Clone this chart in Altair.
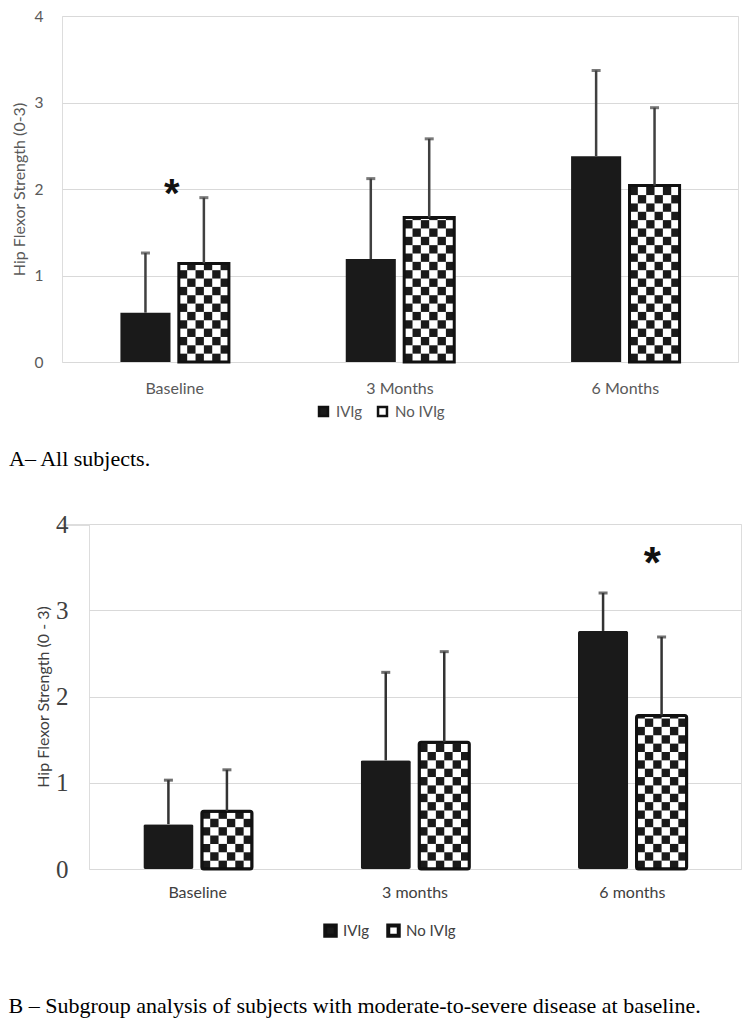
import math
import altair as alt
import pandas as pd

groups = ["IVIg", "No IVIg"]

# ---- Panel A: all subjects ----
a_times = ["Baseline", "3 Months", "6 Months"]
a_ivig = [0.57, 1.19, 2.38]
a_ivig_sd = [0.69, 0.93, 0.99]
a_noivig = [1.14, 1.67, 2.04]
a_noivig_sd = [0.76, 0.91, 0.90]
a_star_time = ["Baseline"]
a_star_y = [1.97]

# ---- Panel B: moderate-to-severe subgroup ----
b_times = ["Baseline", "3 months", "6 months"]
b_ivig = [0.52, 1.26, 2.76]
b_ivig_sd = [0.51, 1.02, 0.44]
b_noivig = [0.67, 1.47, 1.78]
b_noivig_sd = [0.48, 1.05, 0.91]
b_star_time = ["6 months"]
b_star_y = [3.63]


def make_panel(times, ivig, ivig_sd, noivig, noivig_sd, star_time, star_y,
               W, H, K, ytitle, caption, st):
    df = pd.DataFrame({
        "Time": times * 2,
        "Group": [groups[0]] * len(times) + [groups[1]] * len(times),
        "Mean": ivig + noivig,
        "SD": ivig_sd + noivig_sd,
    })
    df["Upper"] = df["Mean"] + df["SD"]

    # checkerboard cells for the "No IVIg" bars
    slot_px = W / len(times) / K
    h = slot_px / (H / 4.0)
    slots = [f"I{j}" for j in range(6)] + ["G"] + [f"N{j}" for j in range(6)]
    cells = []
    for t, v in zip(times, noivig):
        n = math.ceil(v / h)
        for i in range(n):
            for j in range(6):
                if (i + j) % 2 == 0:
                    cells.append({"Time": t, "Slot": f"N{j}", "y": i * h,
                                  "y2": min((i + 1) * h, v)})
    cells = pd.DataFrame(cells)

    stars = pd.DataFrame({"Time": star_time, "y": star_y})

    xscale = alt.Scale(domain=times, paddingInner=(K - 13) / K,
                       paddingOuter=(K - 13) / (2 * K))
    xaxis = alt.Axis(title=None, labelAngle=0, ticks=False, domain=False, grid=False,
                     labelFont=st["font"], labelFontSize=st["xfs"], labelColor=st["color"],
                     labelPadding=st["xpad"])
    X = alt.X("Time:N", scale=xscale, sort=times, axis=xaxis)
    yscale = alt.Scale(domain=[0, 4], nice=False)
    yaxis = alt.Axis(title=ytitle, values=[0, 1, 2, 3, 4], format="d", grid=True,
                     gridColor="#d9d9d9", gridWidth=1.2, domain=False, ticks=False,
                     labelFont=st["yfont"], labelFontSize=st["yfs"], labelColor=st["ycolor"],
                     labelPadding=st["ypad"], titleFont=st["font"], titleFontSize=st["tfs"],
                     titleFontWeight="normal", titleColor=st["color"],
                     titlePadding=st["tpad"])
    oscale = alt.Scale(domain=groups, paddingInner=1 / 7, paddingOuter=0)
    XO = alt.XOffset("Group:N", scale=oscale, sort=groups)

    bars = alt.Chart(df).mark_bar(cornerRadius=st["cr"]).encode(
        x=X, xOffset=XO,
        y=alt.Y("Mean:Q", scale=yscale, axis=yaxis),
        fill=alt.Fill("Group:N", scale=alt.Scale(domain=groups, range=["#1a1a1a", "white"]),
                      legend=alt.Legend(title=None, orient="none", direction="horizontal",
                                        legendX=st["lx"], legendY=H + st["ly"],
                                        symbolType="square", symbolSize=st["ss"],
                                        symbolStrokeColor="#111111",
                                        symbolStrokeWidth=st["ssw"],
                                        labelFont=st["font"], labelFontSize=st["lfs"],
                                        labelColor=st["color"], labelOffset=5,
                                        columnPadding=10)),
    )

    checks = alt.Chart(cells).mark_rect(color="#1a1a1a").encode(
        x=X,
        xOffset=alt.XOffset("Slot:N", scale=alt.Scale(domain=slots, paddingInner=0,
                                                      paddingOuter=0), sort=slots),
        y=alt.Y("y:Q", scale=yscale, axis=yaxis),
        y2="y2:Q",
    )

    outline = alt.Chart(df).transform_filter(
        alt.datum.Group == groups[1]
    ).mark_bar(fill="transparent", stroke="#111111", strokeWidth=3,
               cornerRadius=st["cr"]).encode(
        x=X, xOffset=XO,
        y=alt.Y("Mean:Q", scale=yscale, axis=yaxis),
    )

    err = alt.Chart(df).mark_rule(color=st["ecolor"], strokeWidth=2.5).encode(
        x=X, xOffset=XO,
        y=alt.Y("Mean:Q", scale=yscale, axis=yaxis),
        y2="Upper:Q",
    )
    caps = alt.Chart(df).mark_tick(color=st["ecolor"], thickness=3, size=9).encode(
        x=X, xOffset=XO,
        y=alt.Y("Upper:Q", scale=yscale, axis=yaxis),
    )

    star = alt.Chart(stars).mark_text(text="*", font="Liberation Sans", fontWeight="bold",
                                      fontSize=st["sfs"], baseline="middle",
                                      dx=st["sdx"], dy=st["sdy"], color="#111111").encode(
        x=X, y=alt.Y("y:Q", scale=yscale, axis=yaxis))

    layer = alt.layer(bars, checks, outline, err, caps, star).resolve_scale(
        xOffset="independent"
    ).properties(
        width=W, height=H,
        title=alt.TitleParams(caption, orient="bottom", anchor="start",
                              font="Liberation Serif", fontSize=22, fontWeight="normal",
                              color="#000000", offset=st["coff"], dx=st["cdx"]),
    )
    return layer


style_a = dict(font="Lato", xfs=16, color="#595959", xpad=18,
               yfont="Lato", yfs=15.5, ycolor="#595959", ypad=19, tfs=16, tpad=7,
               cr=0, lx=254, ly=42, ss=80, ssw=2.5, lfs=15,
               ecolor="#404040", sfs=40, sdx=-3, sdy=3, coff=28, cdx=-2)
style_b = dict(font="Lato", xfs=16, color="#404040", xpad=15,
               yfont="Liberation Serif", yfs=25, ycolor="#404040", ypad=21, tfs=16, tpad=4,
               cr=2, lx=234, ly=54, ss=110, ssw=4, lfs=15,
               ecolor="#333333", sfs=44, sdx=20, sdy=9, coff=52, cdx=-27)

top = make_panel(a_times, a_ivig, a_ivig_sd, a_noivig, a_noivig_sd,
                 a_star_time, a_star_y,
                 676, 346, 27, "Hip Flexor Strength (0-3)", "A– All subjects.", style_a)
bottom = make_panel(b_times, b_ivig, b_ivig_sd, b_noivig, b_noivig_sd,
                    b_star_time, b_star_y,
                    652, 345, 26, "Hip Flexor Strength (0 - 3)",
                    "B – Subgroup analysis of subjects with moderate-to-severe disease at baseline.",
                    style_b)

# invisible spacer so that the lower panel's plot starts further right, as in the original
spacer = alt.Chart(pd.DataFrame({"s": [0]})).mark_point(opacity=0).encode(
    x=alt.X("s:Q", axis=None), y=alt.Y("s:Q", axis=None)
).properties(width=27, height=1)

bottom_row = alt.hconcat(spacer, bottom, spacing=0, bounds="flush").resolve_scale(
    fill="independent").resolve_legend(fill="independent")

chart = alt.vconcat(top, bottom_row, spacing=40).resolve_scale(
    fill="independent").resolve_legend(fill="independent").properties(
    padding={"left": 0, "top": 0, "right": 0, "bottom": 0}
).configure_view(stroke=None).configure(background="white")

chart.save("out.html", embed_options={"renderer": "svg", "actions": False})
